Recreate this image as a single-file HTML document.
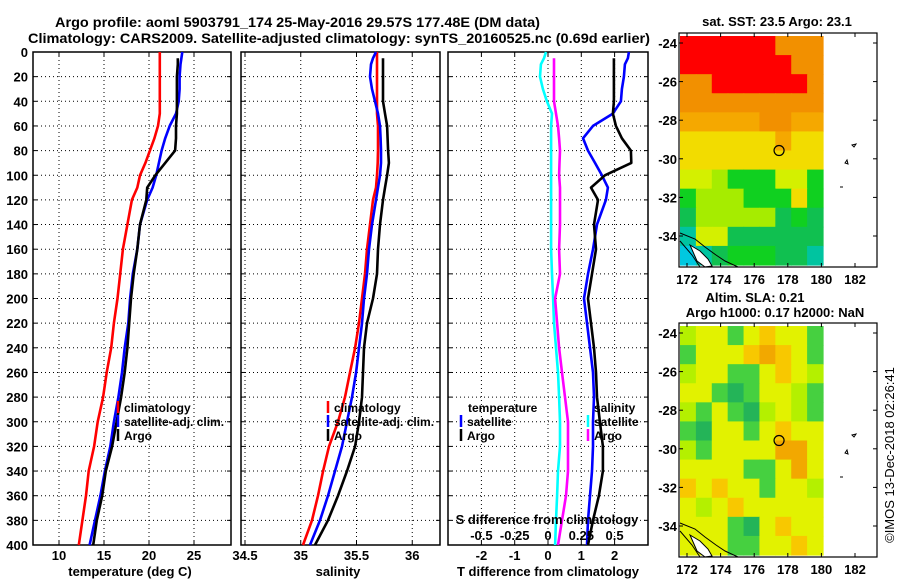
<!DOCTYPE html>
<html><head><meta charset="utf-8"><style>
body{margin:0;background:#fff}
svg{display:block;font-family:"Liberation Sans",sans-serif;font-weight:bold}
</style></head><body>
<svg id="fig" width="900" height="580" viewBox="0 0 900 580" xmlns="http://www.w3.org/2000/svg">
<rect width="900" height="580" fill="#fff"/>
<text x="55" y="27" font-size="14" textLength="485" lengthAdjust="spacingAndGlyphs">Argo profile: aoml 5903791_174 25-May-2016 29.57S 177.48E (DM data)</text>
<text x="28" y="43" font-size="14" textLength="622" lengthAdjust="spacingAndGlyphs">Climatology: CARS2009. Satellite-adjusted climatology: synTS_20160525.nc (0.69d earlier)</text>
<g id="g"></g>
</svg>
<script>
// depth levels (dbar)
const depths=[0,5,10,20,30,40,50,60,70,80,90,100,110,120,140,160,180,200,220,240,260,280,300,320,340,360,380,400];
// temperature (deg C)
const tClim=[21.2,21.2,21.2,21.2,21.2,21.2,21.2,21.0,20.6,20.1,19.6,19.0,18.7,18.1,17.6,17.1,16.8,16.5,16.1,15.8,15.3,14.9,14.3,13.9,13.3,13.0,12.6,12.2];
const tSat=[23.7,23.6,23.5,23.4,23.4,23.3,23.0,22.3,21.8,21.4,21.1,20.8,20.4,19.8,19.0,18.7,18.2,17.9,17.7,17.3,17.0,16.6,16.1,15.7,15.1,14.6,14.0,13.4];
const tArgo=[null,23.2,23.2,23.1,23.1,23.1,23.1,23.0,23.0,22.9,21.8,20.7,19.8,19.7,19.0,18.7,18.3,18.0,17.8,17.6,17.3,16.9,16.4,15.9,15.2,14.8,14.2,13.8];
// salinity
const sClim=[35.684,35.684,35.684,35.684,35.684,35.684,35.684,35.693,35.693,35.693,35.690,35.684,35.675,35.648,35.621,35.594,35.576,35.549,35.522,35.487,35.442,35.397,35.334,35.253,35.200,35.155,35.101,35.020];
const sSat=[35.675,35.648,35.630,35.621,35.639,35.666,35.693,35.711,35.716,35.720,35.720,35.711,35.693,35.675,35.639,35.612,35.594,35.567,35.549,35.522,35.496,35.460,35.415,35.370,35.307,35.244,35.173,35.083];
const sArgo=[null,35.738,35.738,35.738,35.738,35.738,35.756,35.774,35.779,35.783,35.791,35.774,35.756,35.738,35.711,35.693,35.684,35.648,35.594,35.567,35.558,35.549,35.522,35.487,35.415,35.334,35.244,35.128];
// differences from climatology
const dTSat=[2.43,2.40,2.31,2.28,2.22,2.19,1.95,1.35,1.05,1.20,1.41,1.62,1.80,1.74,1.47,1.35,1.20,1.08,1.17,1.26,1.35,1.38,1.35,1.35,1.32,1.26,1.20,1.17];
const dTArgo=[null,1.98,1.98,1.98,1.98,1.98,1.95,2.04,2.22,2.49,2.50,1.71,1.29,1.50,1.38,1.44,1.32,1.20,1.29,1.38,1.44,1.47,1.56,1.65,1.65,1.53,1.35,1.20];
const dSSat=[-0.015,-0.03,-0.053,-0.06,-0.038,-0.008,0.03,0.023,0.023,0.023,0.023,0.023,0.023,0.023,0.023,0.023,0.030,0.038,0.045,0.060,0.075,0.083,0.090,0.090,0.075,0.068,0.060,0.053];
const dSArgo=[null,0.045,0.045,0.045,0.045,0.045,0.060,0.075,0.083,0.090,0.086,0.083,0.090,0.090,0.090,0.083,0.090,0.053,0.068,0.083,0.105,0.128,0.150,0.150,0.150,0.135,0.105,0.075];
const depthTicks=[0,20,40,60,80,100,120,140,160,180,200,220,240,260,280,300,320,340,360,380,400];
const tTicks=[10,15,20,25];
const sTicks=[34.5,35,35.5,36];
const dTTicks=[-2,-1,0,1,2];
const dSTicks=[-0.5,-0.25,0,0.25,0.5];
const dSTickLabels=["-0.5","-0.25","0","0.25","0.5"];
const lonTicks=[172,174,176,178,180,182];
const latTicks=[-24,-26,-28,-30,-32,-34];
// map colour grids (rows north->south, cols west->east)
const sstGrid=["RRRRRROOO","RRRRRRROO","OORRRRRRO","OOOOOOOOO","oooooOOoo","YYYYYYoYY","YYYYYYYYY","yyLGGGyyG","GLLLGGGYG","gLLLLLgGg","Tyygggggg","CTgGGGggT"];
const slaGrid=["LyyGyOyyG","GyyyOAOyG","LyyGGyOyL","yyGDGyyLG","LGyGDLyLG","GDyyGyOyy","LGyyyyAAy","yyyyGGyAy","OyOyyGyyL","yLyOyyyyy","yyyGDyOyy","yyyGGyyOy"];
const argoLon=177.48, argoLat=-29.57;

const NS="http://www.w3.org/2000/svg";
const G=document.getElementById('g');
function mk(tag,attrs,parent){const e=document.createElementNS(NS,tag);for(const k in attrs)e.setAttribute(k,attrs[k]);(parent||G).appendChild(e);return e;}
const yD=d=>52+d*(493/400);
const P1={x0:33,x1:231,f:v=>59+(v-10)*9};
const P2={x0:241,x1:440,f:v=>245+(v-34.5)*111.5};
const P3={x0:448,x1:648,fT:v=>548+v*33.3,fS:v=>548+v*133.2};

function grid(P,xs,name){
  const g=mk('g',{});
  
  
  depthTicks.forEach(d=>{if(d>0&&d<400)mk('line',{x1:P.x0,x2:P.x1,y1:yD(d),y2:yD(d),stroke:'#000','stroke-width':1,'stroke-dasharray':'1 3'},g);});
  xs.forEach(x=>{mk('line',{x1:x,x2:x,y1:52,y2:545,stroke:'#000','stroke-width':1,'stroke-dasharray':'1 3'},g);
    mk('line',{x1:x,x2:x,y1:52,y2:56,stroke:'#000'},g);mk('line',{x1:x,x2:x,y1:541,y2:545,stroke:'#000'},g);});
  depthTicks.forEach(d=>{mk('line',{x1:P.x0,x2:P.x0+4,y1:yD(d),y2:yD(d),stroke:'#000'},g);mk('line',{x1:P.x1-4,x2:P.x1,y1:yD(d),y2:yD(d),stroke:'#000'},g);});
  const r=mk('rect',{x:P.x0,y:52,width:P.x1-P.x0,height:493,fill:'none',stroke:'#000','stroke-width':1.5},g);
  
  
}
function line(vals,f,color,name){
  let pts=[];vals.forEach((v,i)=>{if(v!==null)pts.push(f(v).toFixed(1)+','+yD(depths[i]).toFixed(1));});
  const p=mk('polyline',{points:pts.join(' '),fill:'none',stroke:color,'stroke-width':2.6,'stroke-linejoin':'round'});
  
  
}
function txt(s,x,y,opts,name){const t=mk('text',Object.assign({x:x,y:y,'font-size':12},opts||{}));t.textContent=s;
  
  return t;}

// panel 1
grid(P1,tTicks.map(P1.f),'temperature-panel');
depthTicks.forEach(d=>txt(String(d),28,yD(d)+5,{'text-anchor':'end','font-size':13},'depth-tick-label'));
tTicks.forEach(v=>txt(String(v),P1.f(v),560,{'text-anchor':'middle','font-size':13},'temperature-tick-label'));
txt('temperature (deg C)',130,576,{'text-anchor':'middle','font-size':13},'temperature-axis-title');
line(tClim,P1.f,'#f00','temp-climatology-line');
line(tSat,P1.f,'#00f','temp-satellite-line');
line(tArgo,P1.f,'#000','temp-argo-line');
// panel 2
grid(P2,sTicks.map(P2.f),'salinity-panel');
sTicks.forEach(v=>txt(String(v),P2.f(v),560,{'text-anchor':'middle','font-size':13},'salinity-tick-label'));
txt('salinity',338,576,{'text-anchor':'middle','font-size':13},'salinity-axis-title');
line(sClim,P2.f,'#f00','sal-climatology-line');
line(sSat,P2.f,'#00f','sal-satellite-line');
line(sArgo,P2.f,'#000','sal-argo-line');
// legends 1,2
function legend(x,items,pre){items.forEach((it,i)=>{const y=407+i*14;
  const l=mk('line',{x1:x,x2:x,y1:y-6,y2:y+6,stroke:it[1],'stroke-width':2.5});
  
  
  txt(it[0],x+6,y+5,{'font-size':12},pre+'-legend-entry');});}
legend(118,[['climatology','#f00'],['satellite-adj. clim.','#00f'],['Argo','#000']],'temperature');
legend(328,[['climatology','#f00'],['satellite-adj. clim.','#00f'],['Argo','#000']],'salinity');
// panel 3
grid({x0:P3.x0,x1:P3.x1},dTTicks.map(P3.fT),'difference-panel');
line(dSSat,P3.fS,'#0ff','s-diff-satellite-line');
line(dSArgo,P3.fS,'#f0f','s-diff-argo-line');
line(dTSat,P3.fT,'#00f','t-diff-satellite-line');
line(dTArgo,P3.fT,'#000','t-diff-argo-line');
dTTicks.forEach(v=>txt(String(v),P3.fT(v),560,{'text-anchor':'middle','font-size':13},'t-diff-tick-label'));
txt('T difference from climatology',548,576,{'text-anchor':'middle','font-size':13},'t-diff-axis-title');
dSTicks.forEach((v,i)=>txt(dSTickLabels[i],P3.fS(v),540,{'text-anchor':'middle','font-size':13},'s-diff-tick-label'));
txt('S difference from climatology',547,524,{'text-anchor':'middle','font-size':13},'s-diff-axis-title');
txt('temperature',468,412,{'font-size':12},'diff-legend-temperature-heading');
txt('salinity',594,412,{'font-size':12},'diff-legend-salinity-heading');
[['satellite','#00f',461],['Argo','#000',461],['satellite','#0ff',588],['Argo','#f0f',588]].forEach((it,i)=>{
  const y=421+(i%2)*14;const l=mk('line',{x1:it[2],x2:it[2],y1:y-6,y2:y+6,stroke:it[1],'stroke-width':2.5});
  
  
  txt(it[0],it[2]+6,y+5,{'font-size':12},'diff-legend-entry');});

// maps
const sstCol={R:'#ff0000',O:'#f29000',o:'#f5a800',Y:'#f2dc00',y:'#d4f000',L:'#a6ec00',G:'#10d020',g:'#10c050',T:'#00c4a0',C:'#00c8e0'};
const slaCol={L:'#b4f000',y:'#e2f200',G:'#46d040',D:'#24b458',O:'#f8c800',A:'#f2a800'};
function map(top,gridData,cols,name){
  const mg=mk('g',{});
  
  
  const lonX=v=>687+(v-172)*16.8, latY=v=>top+10+(-24-v)*19.3;
  const x0=680,x1=823,y0=top+3,y1=top+232;
  const cw=(x1-x0)/9,ch=(y1-y0)/12;
  gridData.forEach((row,r)=>{[...row].forEach((c,k)=>{mk('rect',{x:(x0+k*cw).toFixed(2),y:(y0+r*ch).toFixed(2),width:(cw+0.6).toFixed(2),height:(ch+0.6).toFixed(2),fill:cols[c]},mg);});});
  mk('path',{d:`M680 ${top+200} L695 ${top+206} L705 ${top+214} L716 ${top+222} L725 ${top+228} L738 ${top+234}`,fill:'none',stroke:'#000','stroke-width':1},mg);
  mk('path',{d:`M690 ${top+212} L700 ${top+218} L708 ${top+226} L712 ${top+233} L705 ${top+234} L697 ${top+228} Z`,fill:'#fff',stroke:'#000','stroke-width':1},mg);
  mk('path',{d:`M680 ${top+208} L692 ${top+222} L700 ${top+234}`,fill:'none',stroke:'#000','stroke-width':1},mg);
  mk('path',{d:`M852 ${top+112} l4 -1 l-2 3 z M845 ${top+130} l2 -3 l1 4 z M840 ${top+154} l3 0`,fill:'none',stroke:'#000','stroke-width':1},mg);
  mk('rect',{x:679,y:top,width:198,height:234,fill:'none',stroke:'#000','stroke-width':1.2},mg);
  lonTicks.forEach(v=>{const x=lonX(v);mk('line',{x1:x,x2:x,y1:top,y2:top+4,stroke:'#000'},mg);mk('line',{x1:x,x2:x,y1:top+230,y2:top+234,stroke:'#000'},mg);
    txt(String(v),x,top+251,{'text-anchor':'middle','font-size':13},'longitude-tick-label');});
  latTicks.forEach(v=>{const y=latY(v);mk('line',{x1:679,x2:683,y1:y,y2:y,stroke:'#000'},mg);mk('line',{x1:873,x2:877,y1:y,y2:y,stroke:'#000'},mg);
    txt(String(v),677,y+5,{'text-anchor':'end','font-size':13},'latitude-tick-label');});
  const c=mk('circle',{cx:lonX(argoLon),cy:latY(argoLat),r:5,fill:'none',stroke:'#000','stroke-width':1.2},mg);
  
  
}
map(33,sstGrid,sstCol,'sst-map');
txt('sat. SST: 23.5 Argo: 23.1',777,26,{'text-anchor':'middle','font-size':13},'sst-map-title');
map(323,slaGrid,slaCol,'sla-map');
txt('Altim. SLA: 0.21',755,302,{'text-anchor':'middle','font-size':13},'sla-map-title');
txt('Argo h1000: 0.17 h2000: NaN',775,317,{'text-anchor':'middle','font-size':13},'sla-map-subtitle');
txt('©IMOS 13-Dec-2018 02:26:41',0,0,{'text-anchor':'middle','font-size':13,'font-weight':'normal',transform:'translate(894,455) rotate(-90)'},'copyright-timestamp');
</script>
</body></html>
